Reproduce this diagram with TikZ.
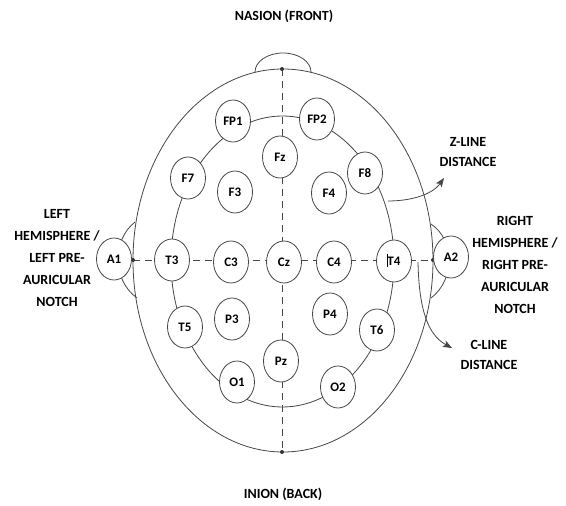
\documentclass[tikz,border=0pt]{standalone}
\usepackage{fontspec}
\setmainfont{Carlito}
\usetikzlibrary{shapes.geometric,arrows.meta}
\begin{document}
\begin{tikzpicture}[x=1pt,y=-1pt,
  outline/.style={draw=black!72, line width=0.8pt},
  electrode/.style={ellipse, draw=black!72, line width=0.8pt, fill=white,
    minimum width=35pt, minimum height=42pt, inner sep=0pt,
    font=\bfseries\fontsize{13}{13}\selectfont},
  caption/.style={font=\bfseries\fontsize{14}{22}\selectfont, align=center, inner sep=0pt},
  smallcaption/.style={font=\bfseries\fontsize{14}{20}\selectfont, align=center, inner sep=0pt},
  midline/.style={draw=black!72, line width=0.8pt, dash pattern=on 7pt off 5pt},
  pointer/.style={draw=black!72, line width=0.8pt, -{Stealth[length=9pt,width=7pt,inset=2pt]}},
  landmark/.style={circle, fill=black!80, inner sep=0pt, minimum size=4pt}]
\useasboundingbox (0,0) rectangle (566,506);

% head outline, nose and ears
\draw[outline] (283,260.5) ellipse [x radius=150pt, y radius=191.5pt];
\draw[outline] (255,72) arc [start angle=180, end angle=0, x radius=28pt, y radius=19pt];
\draw[outline] (135,222) .. controls (112,240) and (112,280) .. (137,298);
\draw[outline] (431,224) .. controls (455,240) and (455,280) .. (431,298);

% circumferential ring of the 10-20 layout
\draw[outline] (282.5,261.5) ellipse [x radius=111.5pt, y radius=145.5pt];

% reference landmarks and midlines
\coordinate (nasion) at (282,69);
\coordinate (inion) at (282,452);
\coordinate (lpa) at (133,260);
\coordinate (rpa) at (433,260);
\draw[midline] (nasion) -- (inion);
\draw[midline] (lpa) -- (rpa);
\foreach \p in {nasion,inion,lpa,rpa} \node[landmark] at (\p) {};

% electrodes
\node[electrode] (FP1) at (233,121) {FP1};
\node[electrode] (FP2) at (317,119) {FP2};
\node[electrode] (Fz)  at (280,157) {Fz};
\node[electrode] (F7)  at (188,178) {F7};
\node[electrode] (F3)  at (235,192) {F3};
\node[electrode] (F4)  at (329,193) {F4};
\node[electrode] (F8)  at (365,173) {F8};
\node[electrode] (A1)  at (114,259) {A1};
\node[electrode] (T3)  at (172,260) {T3};
\node[electrode] (C3)  at (231,262) {C3};
\node[electrode] (Cz)  at (284,262) {Cz};
\node[electrode] (C4)  at (334,262) {C4};
\node[electrode] (T4)  at (394,261) {T4};
\node[electrode] (A2)  at (451,257) {A2};
\node[electrode] (T5)  at (185,327) {T5};
\node[electrode] (P3)  at (232,319) {P3};
\node[electrode] (P4)  at (330,314) {P4};
\node[electrode] (T6)  at (377,330) {T6};
\node[electrode] (Pz)  at (281,361) {Pz};
\node[electrode] (O1)  at (237,382) {O1};
\node[electrode] (O2)  at (338,387) {O2};
\draw[black, line width=0.7pt] ([xshift=-7pt,yshift=-6pt]T4.center) -- ([xshift=-7pt,yshift=7pt]T4.center);

% distance pointers
\coordinate (zstart) at (388,201);
\coordinate (ztip) at (444,178);
\coordinate (cstart) at (418,262);
\coordinate (ctip) at (452,348);
\draw[pointer] (zstart) .. controls (410,201) and (432,195) .. (ztip);
\draw[pointer] (cstart) .. controls (419,310) and (428,335) .. (ctip);

% captions
\node[caption] (front) at (284,16) {NASION (FRONT)};
\node[caption] (back) at (283,494) {INION (BACK)};
\node[caption] (left) at (57,258) {LEFT\\HEMISPHERE /\\LEFT PRE-\\AURICULAR\\NOTCH};
\node[caption] (right) at (515,265) {RIGHT\\HEMISPHERE /\\RIGHT PRE-\\AURICULAR\\NOTCH};
\node[smallcaption] (zlabel) at (468,152) {Z-LINE\\DISTANCE};
\node[smallcaption] (clabel) at (489,355) {C-LINE\\DISTANCE};
\end{tikzpicture}
\end{document}
